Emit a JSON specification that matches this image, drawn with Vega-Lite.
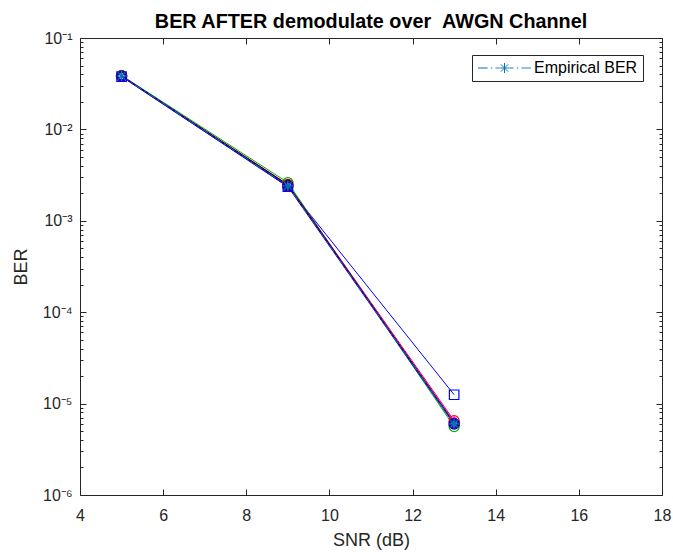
{
  "$schema": "https://vega.github.io/schema/vega-lite/v6.json",
  "width": 582,
  "height": 457,
  "autosize": {"type": "none"},
  "padding": {"left": 80, "top": 38, "right": 11, "bottom": 57},
  "background": "#ffffff",
  "config": {
    "font": "Liberation Sans",
    "view": {"stroke": null},
    "axis": {"domainColor": "#262626", "tickColor": "#262626", "labelColor": "#262626", "titleColor": "#262626", "labelFont": "Liberation Sans", "titleFont": "Liberation Sans", "grid": false}
  },
  "title": {
    "text": "BER AFTER demodulate over \u00a0AWGN Channel",
    "fontSize": 19.8,
    "fontWeight": "bold",
    "font": "Liberation Sans",
    "color": "#000000",
    "anchor": "middle",
    "frame": "group",
    "baseline": "alphabetic",
    "offset": 10,
    "dy": 28
  },
  "datasets": {
    "ber": [
      {"series": "s1", "snr": 5, "ber": 0.0378},
      {"series": "s1", "snr": 9, "ber": 0.00236},
      {"series": "s1", "snr": 13, "ber": 0.0000125},
      {"series": "s2", "snr": 5, "ber": 0.0385},
      {"series": "s2", "snr": 9, "ber": 0.0025},
      {"series": "s2", "snr": 13, "ber": 0.0000065},
      {"series": "s3", "snr": 5, "ber": 0.039},
      {"series": "s3", "snr": 9, "ber": 0.00262},
      {"series": "s3", "snr": 13, "ber": 0.0000056},
      {"series": "s4", "snr": 5, "ber": 0.0382},
      {"series": "s4", "snr": 9, "ber": 0.00245},
      {"series": "s4", "snr": 13, "ber": 0.0000063},
      {"series": "s5", "snr": 5, "ber": 0.0384},
      {"series": "s5", "snr": 9, "ber": 0.00248},
      {"series": "s5", "snr": 13, "ber": 0.0000061},
      {"series": "s6", "snr": 5, "ber": 0.0383},
      {"series": "s6", "snr": 9, "ber": 0.0024},
      {"series": "s6", "snr": 13, "ber": 0.000006},
      {"series": "Empirical BER", "snr": 5, "ber": 0.0384},
      {"series": "Empirical BER", "snr": 9, "ber": 0.00241},
      {"series": "Empirical BER", "snr": 13, "ber": 0.000006}
    ]
  },
  "data": {"name": "ber"},
  "resolve": {"scale": {"x": "independent", "y": "independent"}},
  "layer": [
    {
      "encoding": {
        "x": {"field": "snr", "type": "quantitative", "scale": {"domain": [4, 18], "nice": false, "zero": false},
          "axis": {"orient": "bottom", "values": [4, 6, 8, 10, 12, 14, 16, 18], "title": "SNR (dB)", "titleFontSize": 18, "titleFontWeight": "normal", "titlePadding": 8, "labelFontSize": 16, "tickSize": -6, "labelPadding": 18, "labelFlush": false}},
        "y": {"field": "ber", "type": "quantitative", "scale": {"type": "log", "domain": [0.000001, 0.1], "nice": false},
          "axis": {"orient": "left", "title": "BER", "titleFontSize": 18, "titleFontWeight": "normal", "titlePadding": 12, "labelFontSize": 16, "labelPadding": 14, "labelFlush": false,
            "values": [0.000001, 0.000002, 0.000003, 0.000004, 0.000005, 0.000006, 0.000007, 0.000008, 0.000009, 0.00001, 0.00002, 0.00003, 0.00004, 0.00005, 0.00006, 0.00007, 0.00008, 0.00009, 0.0001, 0.0002, 0.0003, 0.0004, 0.0005, 0.0006, 0.0007, 0.0008, 0.0009, 0.001, 0.002, 0.003, 0.004, 0.005, 0.006, 0.007, 0.008, 0.009, 0.01, 0.02, 0.03, 0.04, 0.05, 0.06, 0.07, 0.08, 0.09, 0.1],
            "labelExpr": "abs(log(datum.value)/LN10 - round(log(datum.value)/LN10)) < 0.001 ? '10' + ['⁰','⁻¹','⁻²','⁻³','⁻⁴','⁻⁵','⁻⁶'][-round(log(datum.value)/LN10)] : ''",
            "tickSize": {"condition": {"test": "abs(log(datum.value)/LN10 - round(log(datum.value)/LN10)) < 0.001", "value": -6}, "value": -3}}}
      },
      "layer": [
        {"transform": [{"filter": "datum.series == 's1'"}], "mark": {"type": "line", "color": "#0000FF", "strokeWidth": 1}},
        {"transform": [{"filter": "datum.series == 's3'"}], "mark": {"type": "line", "color": "#00B000", "strokeWidth": 1}},
        {"transform": [{"filter": "datum.series == 's2'"}], "mark": {"type": "line", "color": "#FF0000", "strokeWidth": 1}},
        {"transform": [{"filter": "datum.series == 's4'"}], "mark": {"type": "line", "color": "#FF00FF", "strokeWidth": 1}},
        {"transform": [{"filter": "datum.series == 's5'"}], "mark": {"type": "line", "color": "#000000", "strokeWidth": 1}},
        {"transform": [{"filter": "datum.series == 's6'"}], "mark": {"type": "line", "color": "#2000B0", "strokeWidth": 1.4}},
        {"transform": [{"filter": "datum.series == 'Empirical BER'"}], "mark": {"type": "line", "strokeWidth": 1, "strokeDash": [8, 3, 2, 3]},
          "encoding": {"color": {"datum": "Empirical BER", "scale": {"range": ["#0072BD"]},
            "legend": {"orient": "none", "legendX": 392, "legendY": 17, "title": null,
              "symbolType": "M-5.3,0H-3.4M-2.75,0H-2.45M-1.8,0H-1.06M1.06,0H1.8M2.45,0H2.75M3.4,0H5.3M-1,0H1M0,-1V1M-0.74,-0.74L0.74,0.74M-0.74,0.74L0.74,-0.74",
              "symbolSize": 100, "symbolStrokeWidth": 1, "symbolStrokeColor": "#0072BD", "symbolFillColor": "transparent", "symbolOffset": 19.5,
              "labelFontSize": 16, "labelFont": "Liberation Sans", "labelColor": "#000000", "labelOffset": 21.5,
              "padding": 5, "strokeColor": "#262626", "fillColor": "#ffffff", "cornerRadius": 0,
              "encode": {"symbols": {"update": {"strokeDash": {"value": [1, 0]}, "opacity": {"value": 1}}}}}}}},
        {"transform": [{"filter": "datum.series == 's1'"}], "mark": {"type": "point", "shape": "square", "filled": false, "color": "#0000FF", "size": 90, "strokeWidth": 1.2, "opacity": 1}},
        {"transform": [{"filter": "datum.series == 's3'"}], "mark": {"type": "point", "shape": "circle", "filled": false, "color": "#00B000", "size": 100, "strokeWidth": 1.2, "opacity": 1}},
        {"transform": [{"filter": "datum.series == 's2'"}], "mark": {"type": "point", "shape": "circle", "filled": false, "color": "#FF0000", "size": 100, "strokeWidth": 1.2, "opacity": 1}},
        {"transform": [{"filter": "datum.series == 's4'"}], "mark": {"type": "point", "shape": "diamond", "filled": false, "color": "#FF00FF", "size": 100, "strokeWidth": 1.2, "opacity": 1}},
        {"transform": [{"filter": "datum.series == 's5'"}], "mark": {"type": "point", "shape": "cross", "filled": false, "color": "#000000", "size": 80, "strokeWidth": 1.2, "opacity": 1}},
        {"transform": [{"filter": "datum.series == 's6'"}], "mark": {"type": "point", "shape": "circle", "filled": false, "color": "#2000B0", "size": 80, "strokeWidth": 2.8, "opacity": 1}},
        {"transform": [{"filter": "datum.series == 'Empirical BER'"}], "mark": {"type": "point", "shape": "M-1,0H1M0,-1V1M-0.7,-0.7L0.7,0.7M-0.7,0.7L0.7,-0.7", "filled": false, "color": "#0072BD", "size": 110, "strokeWidth": 1.2, "opacity": 1}}
      ]
    },
    {
      "mark": {"type": "point", "opacity": 0},
      "encoding": {
        "x": {"field": "snr", "type": "quantitative", "scale": {"domain": [4, 18], "nice": false, "zero": false},
          "axis": {"orient": "top", "values": [4, 6, 8, 10, 12, 14, 16, 18], "title": null, "labels": false, "tickSize": -6}},
        "y": {"field": "ber", "type": "quantitative", "scale": {"type": "log", "domain": [0.000001, 0.1], "nice": false},
          "axis": {"orient": "right", "title": null, "labels": false,
            "values": [0.000001, 0.000002, 0.000003, 0.000004, 0.000005, 0.000006, 0.000007, 0.000008, 0.000009, 0.00001, 0.00002, 0.00003, 0.00004, 0.00005, 0.00006, 0.00007, 0.00008, 0.00009, 0.0001, 0.0002, 0.0003, 0.0004, 0.0005, 0.0006, 0.0007, 0.0008, 0.0009, 0.001, 0.002, 0.003, 0.004, 0.005, 0.006, 0.007, 0.008, 0.009, 0.01, 0.02, 0.03, 0.04, 0.05, 0.06, 0.07, 0.08, 0.09, 0.1],
            "tickSize": {"condition": {"test": "abs(log(datum.value)/LN10 - round(log(datum.value)/LN10)) < 0.001", "value": -6}, "value": -3}}}
      }
    }
  ]
}
